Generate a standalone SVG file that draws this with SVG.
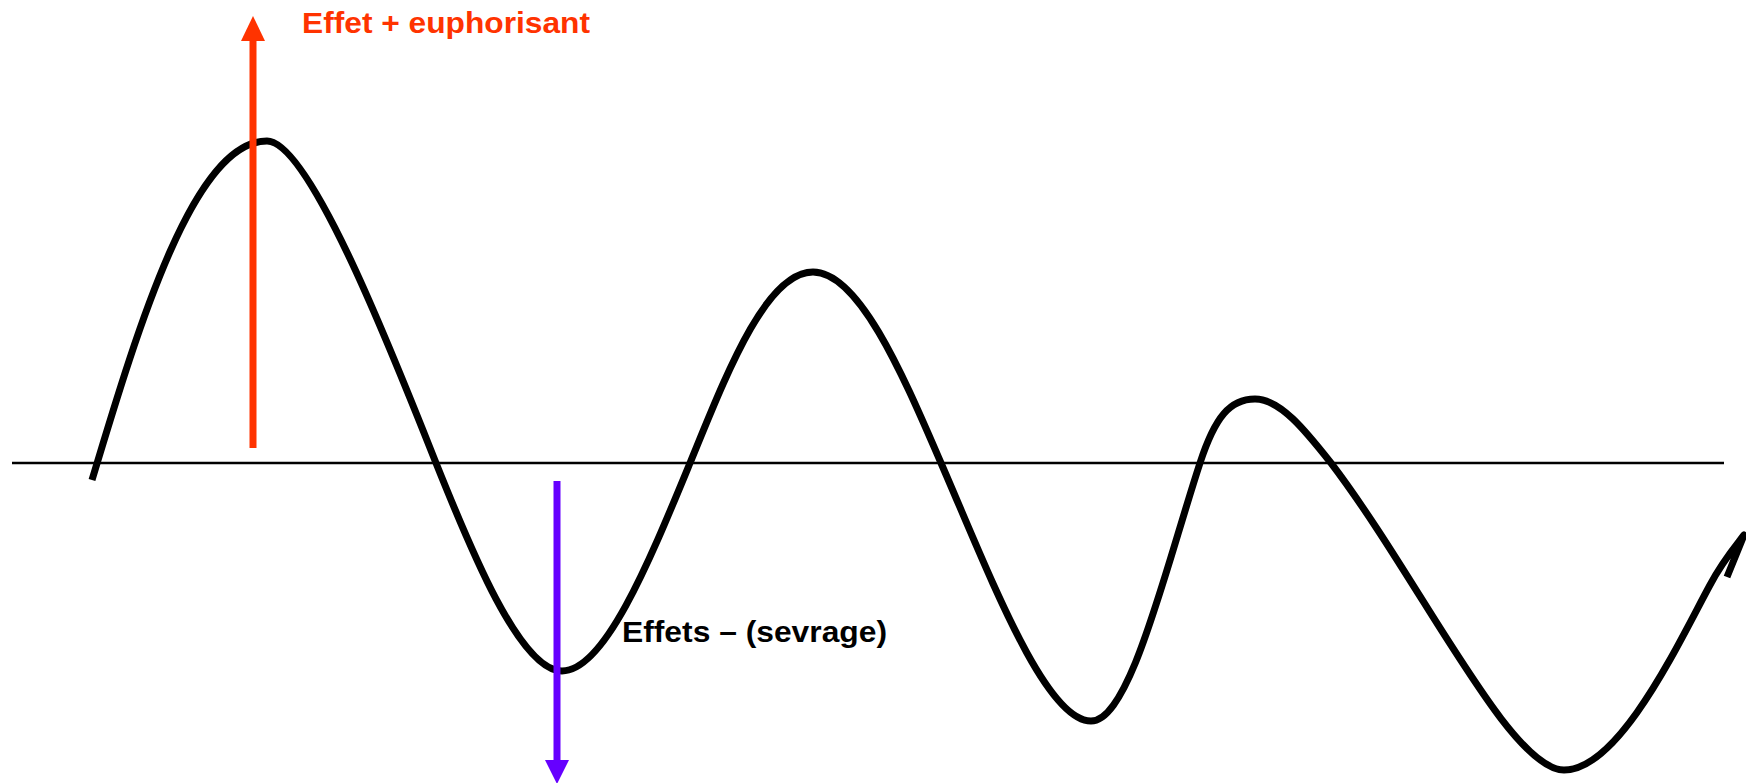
<svg xmlns="http://www.w3.org/2000/svg" width="1746" height="783" viewBox="0 0 1746 783">
  <style>
    .axis { stroke: #000; stroke-width: 2.7; fill: none; }
    .wave { stroke: #000; stroke-width: 7; fill: none; stroke-linecap: butt; stroke-linejoin: round; }
    .lbl { font-family: "Liberation Sans", Arial, sans-serif; font-weight: bold; font-size: 30px; }
  </style>
  <rect width="1746" height="783" fill="#fff"/>
  <g id="connectors">
    <line id="axis" class="axis" x1="12" y1="463" x2="1724" y2="463"/>
    <path id="wave" class="wave" d="M92,480 C140,320 195,141 267,141 C310,141 395,360 436,463 C470,548 520,671 562,671 C605,671 650,560 690,463 C725,378 765,272 813,272 C860,272 905,380 941,463 C990,576 1045,721 1091,721 C1130,721 1165,570 1200,463 C1215,417 1230,399 1255,399 C1280,399 1305,430 1331,463 C1420,580 1510,770 1564,770 C1620,770 1680,640 1710,585 C1722,562 1734,548 1744,535 L1727,577"/>
    <g id="arrow-up">
      <line x1="253" y1="448" x2="253" y2="38" stroke="#FF3300" stroke-width="7"/>
      <polygon points="253,16 241,41 265,41" fill="#FF3300"/>
    </g>
    <g id="arrow-down">
      <line x1="557" y1="481" x2="557" y2="762" stroke="#6600FF" stroke-width="7"/>
      <polygon points="557,784 545,760 569,760" fill="#6600FF"/>
    </g>
  </g>
  <g id="label-up">
    <text class="lbl" x="302" y="33" fill="#FF3300" textLength="288" lengthAdjust="spacingAndGlyphs">Effet + euphorisant</text>
  </g>
  <g id="label-down">
    <text class="lbl" x="622" y="642" fill="#000" textLength="265" lengthAdjust="spacingAndGlyphs">Effets – (sevrage)</text>
  </g>
</svg>
